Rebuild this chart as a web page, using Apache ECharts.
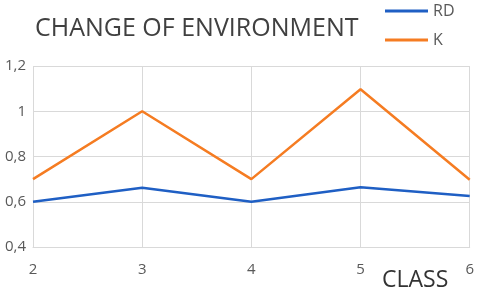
<!DOCTYPE html>
<html><head><meta charset="utf-8">
<script src="https://cdn.jsdelivr.net/npm/echarts@6/dist/echarts.min.js"></script>
<style>html,body{margin:0;padding:0;background:#fff}#c{width:477px;height:291px}</style>
</head><body><div id="c"></div>
<script>
const classes = [2, 3, 4, 5, 6];
const rd = [0.6, 0.662, 0.6, 0.664, 0.625];
const k = [0.7, 1.0, 0.7, 1.097, 0.697];
const yTicks = [0.4, 0.6, 0.8, 1.0, 1.2];

const chart = echarts.init(document.getElementById('c'), null, {renderer: 'canvas'});
const fmt = v => String(Math.round(v * 10) / 10).replace('.', ',');
chart.setOption({
  animation: false,
  textStyle: {fontFamily: 'Open Sans'},
  title: {
    text: 'CHANGE OF ENVIRONMENT', left: 30, top: 11,
    textStyle: {fontFamily: 'Open Sans', fontSize: 25, fontWeight: 'normal', color: '#404040'}
  },
  legend: {
    orient: 'vertical', left: 380, top: -4, itemWidth: 43, itemHeight: 3, itemGap: 9,
    icon: 'rect',
    textStyle: {fontSize: 16, color: '#595959', fontFamily: 'Open Sans', lineHeight: 20},
    data: ['RD', 'K']
  },
  grid: {left: 33, right: 5, top: 66, bottom: 44},
  xAxis: {
    type: 'value', min: classes[0], max: classes[classes.length - 1], interval: 1,
    axisLine: {show: true, lineStyle: {color: '#d9d9d9'}},
    axisTick: {show: false},
    splitLine: {show: true, lineStyle: {color: '#d9d9d9'}},
    axisLabel: {fontSize: 15, color: '#595959', margin: 15}
  },
  yAxis: {
    type: 'value', min: yTicks[0], max: yTicks[yTicks.length - 1], interval: 0.2,
    axisLine: {show: false}, axisTick: {show: false},
    splitLine: {show: true, lineStyle: {color: '#d9d9d9'}},
    axisLabel: {fontSize: 15, color: '#595959', margin: 7, formatter: fmt}
  },
  graphic: [{
    type: 'text', left: 382, top: 269,
    style: {text: 'CLASS', fontSize: 23, fontFamily: 'Open Sans', fill: '#333333'}
  }],
  series: [
    {name: 'RD', type: 'line', symbol: 'none', data: classes.map((c, i) => [c, rd[i]]),
     lineStyle: {color: '#1f5fc4', width: 2.5}, itemStyle: {color: '#1f5fc4'}},
    {name: 'K', type: 'line', symbol: 'none', data: classes.map((c, i) => [c, k[i]]),
     lineStyle: {color: '#f57c22', width: 2.5}, itemStyle: {color: '#f57c22'}}
  ]
});
</script></body></html>
